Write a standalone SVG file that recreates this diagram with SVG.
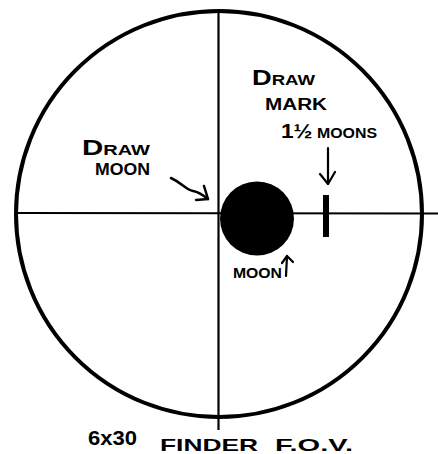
<svg xmlns="http://www.w3.org/2000/svg" width="438" height="454" viewBox="0 0 438 454">
<style>
.t{font-family:"Liberation Sans",Arial,sans-serif;fill:#000;font-weight:bold}
.ln{stroke:#000;fill:none;stroke-linecap:round;stroke-linejoin:round}
</style>
<rect width="438" height="454" fill="#fff"/>
<g id="field">
<circle cx="219" cy="214" r="203" fill="none" stroke="#000" stroke-width="4"/>
</g>
<g id="crosshair">
<line x1="218.5" y1="13" x2="218.5" y2="430" stroke="#000" stroke-width="2.2"/>
<line x1="18" y1="213" x2="438" y2="213.5" stroke="#000" stroke-width="2.2"/>
</g>
<g id="moon">
<circle cx="257" cy="218.5" r="37" fill="#000"/>
</g>
<g id="mark">
<rect x="323" y="195" width="6" height="42" fill="#000"/>
</g>
<g id="labels">
<text class="t" x="82" y="155" font-size="22" textLength="68" lengthAdjust="spacingAndGlyphs">D<tspan font-size="15">RAW</tspan></text>
<text class="t" x="95" y="175" font-size="16" textLength="55" lengthAdjust="spacingAndGlyphs">MOON</text>
<text class="t" x="252" y="85" font-size="22" textLength="63" lengthAdjust="spacingAndGlyphs">D<tspan font-size="15">RAW</tspan></text>
<text class="t" x="265" y="110" font-size="16" textLength="62" lengthAdjust="spacingAndGlyphs">MARK</text>
<text class="t" x="281" y="138" font-size="14" textLength="96" lengthAdjust="spacingAndGlyphs"><tspan font-size="20">1½</tspan> MOONS</text>
<text class="t" x="233" y="278" font-size="15" textLength="49" lengthAdjust="spacingAndGlyphs">MOON</text>
<text class="t" x="88" y="445" font-size="20" textLength="49" lengthAdjust="spacingAndGlyphs">6x30</text>
<text class="t" x="160" y="451" font-size="17" textLength="98" lengthAdjust="spacingAndGlyphs">FINDER</text>
<text class="t" x="275" y="451" font-size="17" textLength="78" lengthAdjust="spacingAndGlyphs">F.O.V.</text>
</g>
<g id="connectors">
<path class="ln" stroke-width="2.5" d="M171 178 C182 183 186 190 193 191 C199 192 203 195 208 199"/>
<path class="ln" stroke-width="2.5" d="M196 200 L208 199 L204 186"/>
<path class="ln" stroke-width="2.2" d="M328 148 L328 184"/>
<path class="ln" stroke-width="2.2" d="M320 174 L328 184 L335 172"/>
<path class="ln" stroke-width="2.2" d="M286 276 L287 256"/>
<path class="ln" stroke-width="2.2" d="M282 263 L287 256 L293 262"/>
</g>
</svg>
